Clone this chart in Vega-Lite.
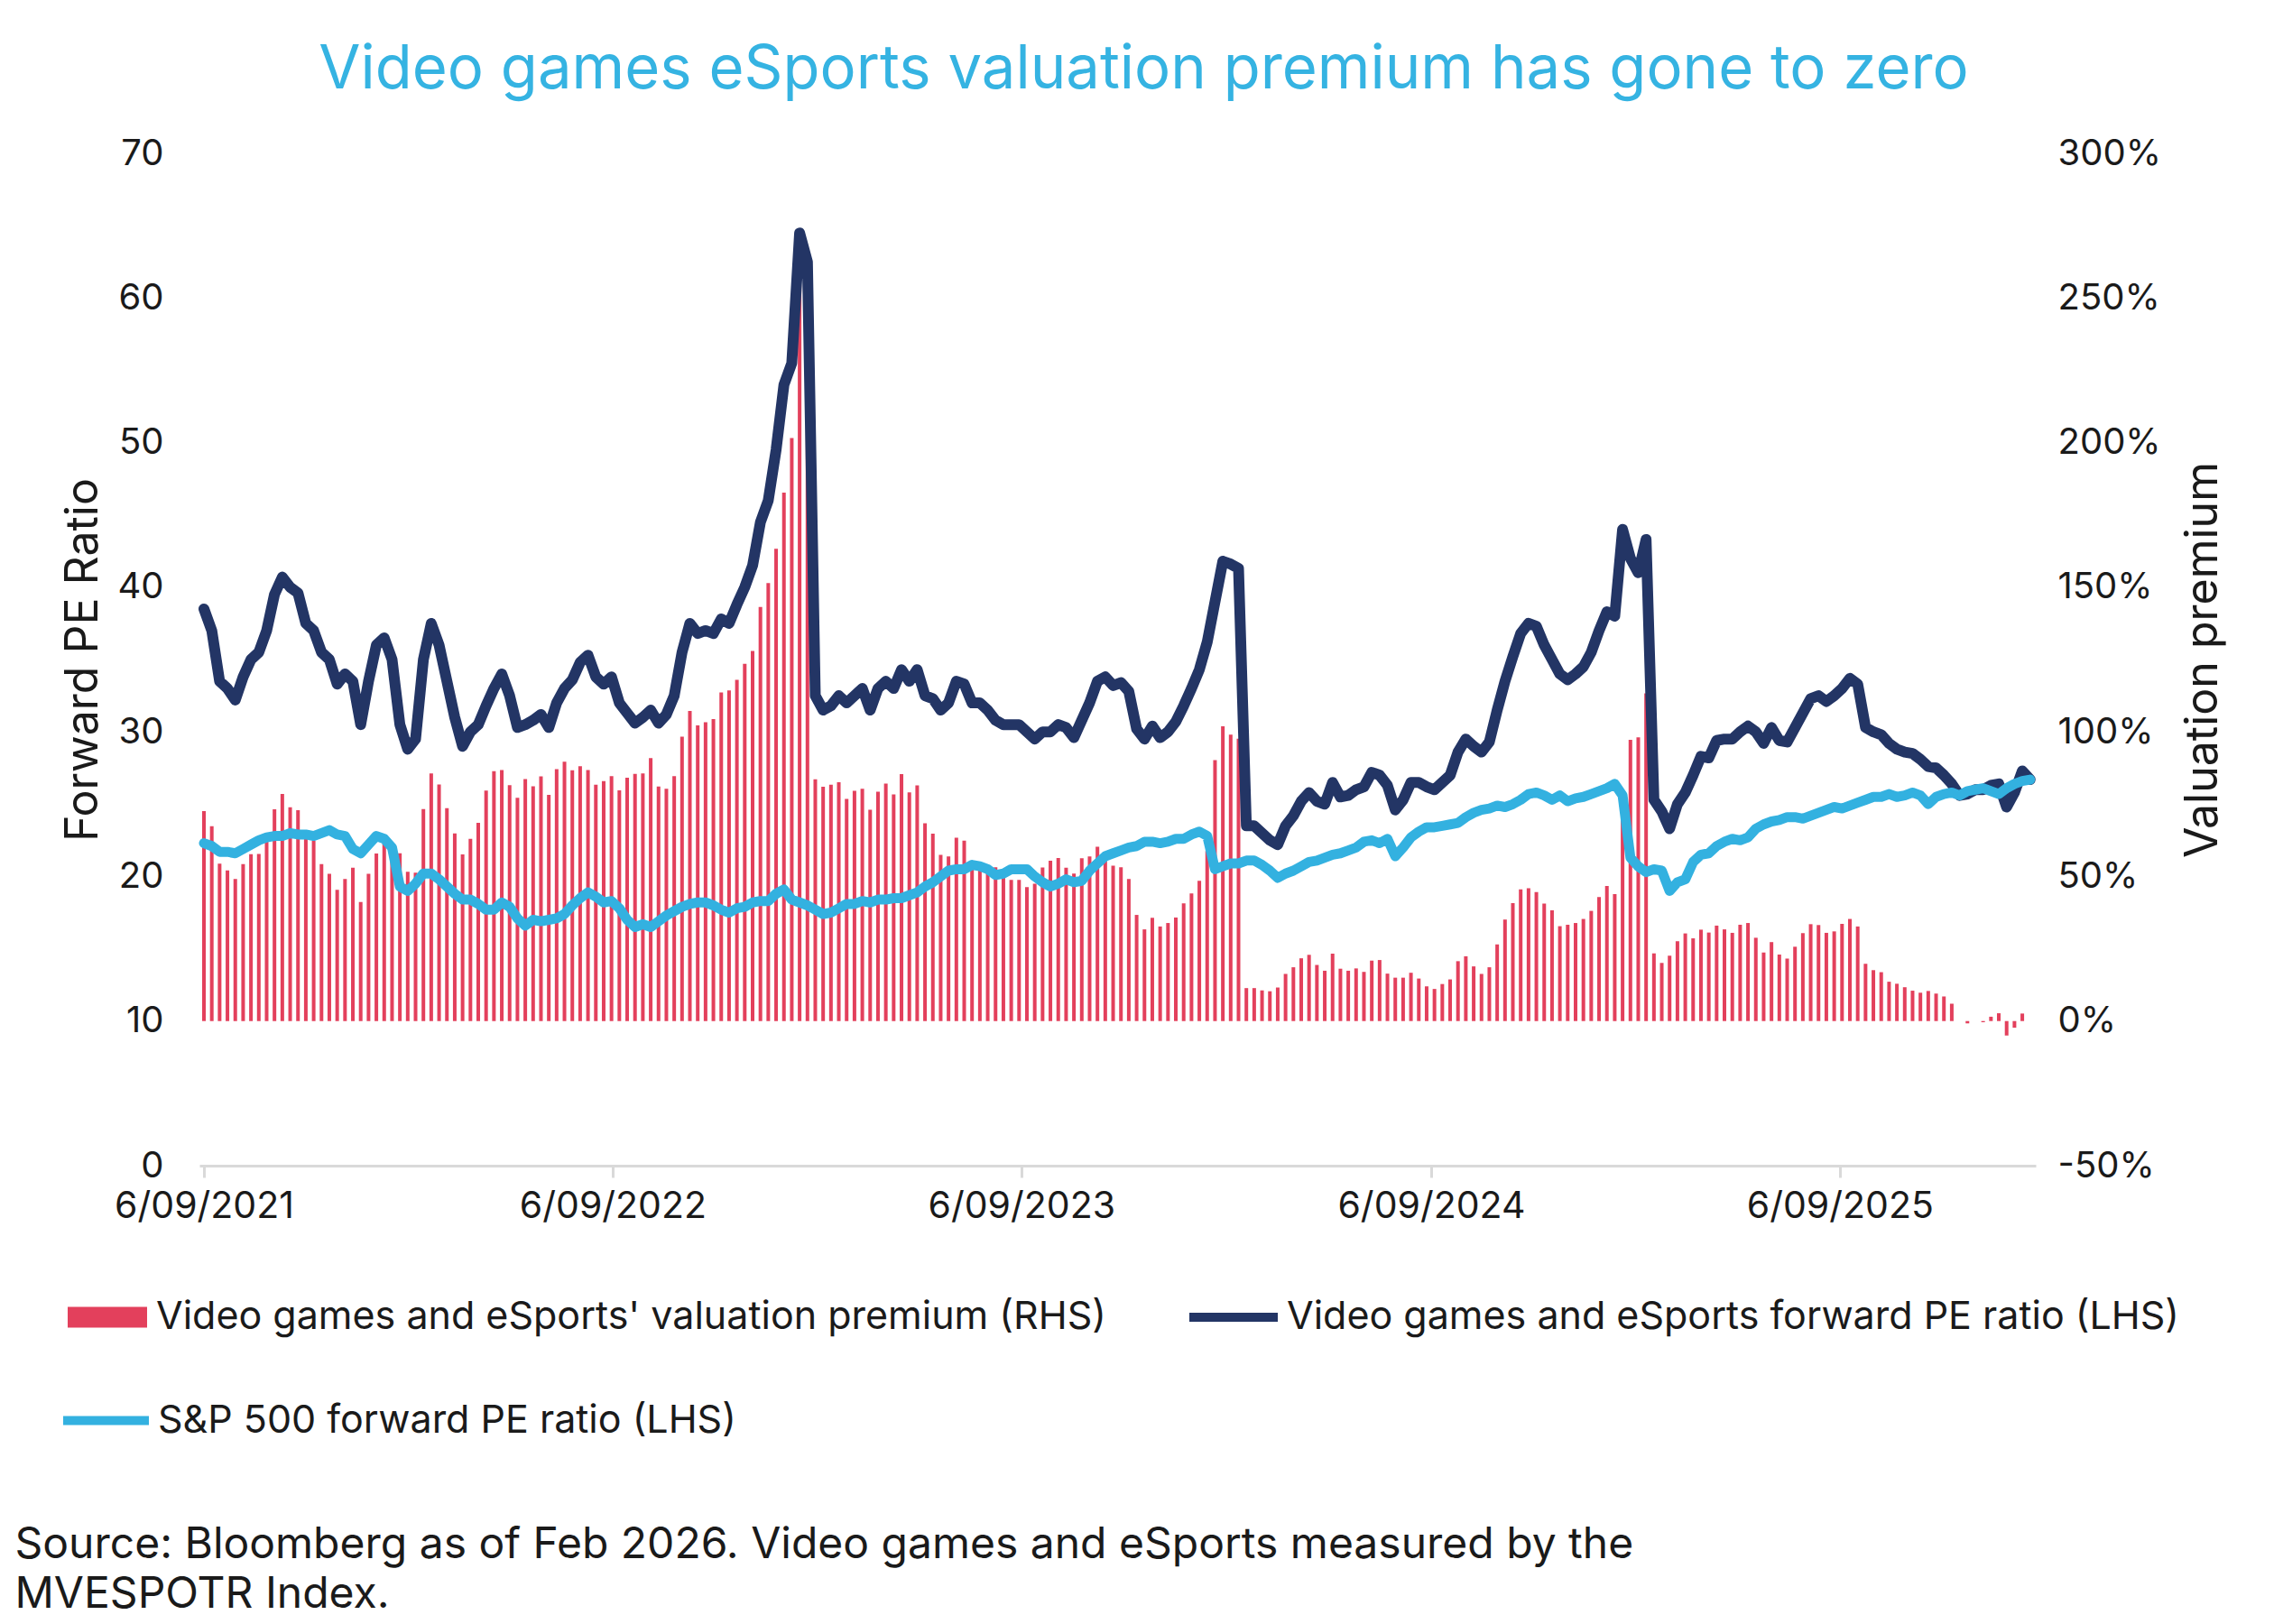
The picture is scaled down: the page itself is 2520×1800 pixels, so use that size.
{
  "$schema": "https://vega.github.io/schema/vega-lite/v6.json",
  "width": 2035,
  "height": 1122,
  "autosize": {"type": "none"},
  "padding": {"left": 221, "top": 170, "right": 264, "bottom": 508},
  "background": "white",
  "title": {"text": "Video games eSports valuation premium has gone to zero", "fontSize": 67, "fontWeight": "normal", "color": "#35b3e2", "font": "Inter", "anchor": "middle", "dx": 29, "offset": 38},
  "config": {
    "font": "Inter",
    "view": {"stroke": null},
    "axis": {"labelColor": "#1a1a1a", "titleColor": "#1a1a1a", "labelFont": "Inter", "titleFont": "Inter", "titleFontWeight": "normal", "grid": false, "labelLimit": 1000},
    "legend": {
      "orient": "none", "direction": "horizontal", "title": null,
      "labelFontSize": 43, "labelColor": "#1a1a1a", "labelLimit": 3000,
      "symbolStrokeWidth": 10, "labelOffset": 5, "symbolOpacity": 1
    }
  },
  "data": {"values": [
    {"d":"2021-09-06","p":0.726,"vg":38.5,"sp":22.3},
    {"d":"2021-09-13","p":0.674,"vg":37.0,"sp":22.1},
    {"d":"2021-09-20","p":0.544,"vg":33.5,"sp":21.7},
    {"d":"2021-09-27","p":0.521,"vg":33.0,"sp":21.7},
    {"d":"2021-10-04","p":0.491,"vg":32.2,"sp":21.6},
    {"d":"2021-10-11","p":0.543,"vg":33.8,"sp":21.9},
    {"d":"2021-10-18","p":0.577,"vg":35.0,"sp":22.2},
    {"d":"2021-10-25","p":0.578,"vg":35.5,"sp":22.5},
    {"d":"2021-11-01","p":0.630,"vg":37.0,"sp":22.7},
    {"d":"2021-11-08","p":0.732,"vg":39.5,"sp":22.8},
    {"d":"2021-11-15","p":0.785,"vg":40.7,"sp":22.8},
    {"d":"2021-11-22","p":0.739,"vg":40.0,"sp":23.0},
    {"d":"2021-11-29","p":0.729,"vg":39.6,"sp":22.9},
    {"d":"2021-12-06","p":0.638,"vg":37.5,"sp":22.9},
    {"d":"2021-12-13","p":0.623,"vg":37.0,"sp":22.8},
    {"d":"2021-12-20","p":0.543,"vg":35.5,"sp":23.0},
    {"d":"2021-12-27","p":0.509,"vg":35.0,"sp":23.2},
    {"d":"2022-01-03","p":0.454,"vg":33.3,"sp":22.9},
    {"d":"2022-01-10","p":0.491,"vg":34.0,"sp":22.8},
    {"d":"2022-01-17","p":0.530,"vg":33.5,"sp":21.9},
    {"d":"2022-01-24","p":0.412,"vg":30.5,"sp":21.6},
    {"d":"2022-01-31","p":0.509,"vg":33.5,"sp":22.2},
    {"d":"2022-02-07","p":0.579,"vg":36.0,"sp":22.8},
    {"d":"2022-02-14","p":0.615,"vg":36.5,"sp":22.6},
    {"d":"2022-02-21","p":0.591,"vg":35.0,"sp":22.0},
    {"d":"2022-02-28","p":0.580,"vg":30.5,"sp":19.3},
    {"d":"2022-03-07","p":0.516,"vg":28.8,"sp":19.0},
    {"d":"2022-03-14","p":0.513,"vg":29.5,"sp":19.5},
    {"d":"2022-03-21","p":0.733,"vg":35.0,"sp":20.2},
    {"d":"2022-03-28","p":0.856,"vg":37.5,"sp":20.2},
    {"d":"2022-04-04","p":0.818,"vg":36.0,"sp":19.8},
    {"d":"2022-04-11","p":0.736,"vg":33.5,"sp":19.3},
    {"d":"2022-04-18","p":0.649,"vg":31.0,"sp":18.8},
    {"d":"2022-04-25","p":0.576,"vg":29.0,"sp":18.4},
    {"d":"2022-05-02","p":0.630,"vg":30.0,"sp":18.4},
    {"d":"2022-05-09","p":0.685,"vg":30.5,"sp":18.1},
    {"d":"2022-05-16","p":0.797,"vg":31.8,"sp":17.7},
    {"d":"2022-05-23","p":0.864,"vg":33.0,"sp":17.7},
    {"d":"2022-05-30","p":0.868,"vg":34.0,"sp":18.2},
    {"d":"2022-06-06","p":0.816,"vg":32.5,"sp":17.9},
    {"d":"2022-06-13","p":0.772,"vg":30.3,"sp":17.1},
    {"d":"2022-06-20","p":0.837,"vg":30.5,"sp":16.6},
    {"d":"2022-06-27","p":0.812,"vg":30.8,"sp":17.0},
    {"d":"2022-07-04","p":0.846,"vg":31.2,"sp":16.9},
    {"d":"2022-07-11","p":0.782,"vg":30.3,"sp":17.0},
    {"d":"2022-07-18","p":0.871,"vg":32.0,"sp":17.1},
    {"d":"2022-07-25","p":0.897,"vg":33.0,"sp":17.4},
    {"d":"2022-08-01","p":0.867,"vg":33.6,"sp":18.0},
    {"d":"2022-08-08","p":0.881,"vg":34.8,"sp":18.5},
    {"d":"2022-08-15","p":0.868,"vg":35.3,"sp":18.9},
    {"d":"2022-08-22","p":0.817,"vg":33.8,"sp":18.6},
    {"d":"2022-08-29","p":0.830,"vg":33.3,"sp":18.2},
    {"d":"2022-09-05","p":0.847,"vg":33.8,"sp":18.3},
    {"d":"2022-09-12","p":0.798,"vg":32.0,"sp":17.8},
    {"d":"2022-09-19","p":0.841,"vg":31.3,"sp":17.0},
    {"d":"2022-09-26","p":0.855,"vg":30.6,"sp":16.5},
    {"d":"2022-10-03","p":0.856,"vg":31.0,"sp":16.7},
    {"d":"2022-10-10","p":0.909,"vg":31.5,"sp":16.5},
    {"d":"2022-10-17","p":0.811,"vg":30.6,"sp":16.9},
    {"d":"2022-10-24","p":0.803,"vg":31.2,"sp":17.3},
    {"d":"2022-10-31","p":0.847,"vg":32.5,"sp":17.6},
    {"d":"2022-11-07","p":0.983,"vg":35.5,"sp":17.9},
    {"d":"2022-11-14","p":1.072,"vg":37.5,"sp":18.1},
    {"d":"2022-11-21","p":1.022,"vg":36.8,"sp":18.2},
    {"d":"2022-11-28","p":1.033,"vg":37.0,"sp":18.2},
    {"d":"2022-12-05","p":1.044,"vg":36.8,"sp":18.0},
    {"d":"2022-12-12","p":1.136,"vg":37.8,"sp":17.7},
    {"d":"2022-12-19","p":1.143,"vg":37.5,"sp":17.5},
    {"d":"2022-12-26","p":1.180,"vg":38.8,"sp":17.8},
    {"d":"2023-01-02","p":1.235,"vg":40.0,"sp":17.9},
    {"d":"2023-01-09","p":1.280,"vg":41.5,"sp":18.2},
    {"d":"2023-01-16","p":1.432,"vg":44.5,"sp":18.3},
    {"d":"2023-01-23","p":1.514,"vg":46.0,"sp":18.3},
    {"d":"2023-01-30","p":1.633,"vg":49.5,"sp":18.8},
    {"d":"2023-02-06","p":1.827,"vg":54.0,"sp":19.1},
    {"d":"2023-02-13","p":2.016,"vg":55.5,"sp":18.4},
    {"d":"2023-02-20","p":2.544,"vg":64.5,"sp":18.2},
    {"d":"2023-02-27","p":2.472,"vg":62.5,"sp":18.0},
    {"d":"2023-03-06","p":0.836,"vg":32.5,"sp":17.7},
    {"d":"2023-03-13","p":0.810,"vg":31.5,"sp":17.4},
    {"d":"2023-03-20","p":0.817,"vg":31.8,"sp":17.5},
    {"d":"2023-03-27","p":0.826,"vg":32.5,"sp":17.8},
    {"d":"2023-04-03","p":0.768,"vg":32.0,"sp":18.1},
    {"d":"2023-04-10","p":0.796,"vg":32.5,"sp":18.1},
    {"d":"2023-04-17","p":0.803,"vg":33.0,"sp":18.3},
    {"d":"2023-04-24","p":0.731,"vg":31.5,"sp":18.2},
    {"d":"2023-05-01","p":0.793,"vg":33.0,"sp":18.4},
    {"d":"2023-05-08","p":0.821,"vg":33.5,"sp":18.4},
    {"d":"2023-05-15","p":0.784,"vg":33.0,"sp":18.5},
    {"d":"2023-05-22","p":0.854,"vg":34.3,"sp":18.5},
    {"d":"2023-05-29","p":0.791,"vg":33.5,"sp":18.7},
    {"d":"2023-06-05","p":0.815,"vg":34.3,"sp":18.9},
    {"d":"2023-06-12","p":0.684,"vg":32.5,"sp":19.3},
    {"d":"2023-06-19","p":0.648,"vg":32.3,"sp":19.6},
    {"d":"2023-06-26","p":0.575,"vg":31.5,"sp":20.0},
    {"d":"2023-07-03","p":0.569,"vg":32.0,"sp":20.4},
    {"d":"2023-07-10","p":0.634,"vg":33.5,"sp":20.5},
    {"d":"2023-07-17","p":0.624,"vg":33.3,"sp":20.5},
    {"d":"2023-07-24","p":0.538,"vg":32.0,"sp":20.8},
    {"d":"2023-07-31","p":0.546,"vg":32.0,"sp":20.7},
    {"d":"2023-08-07","p":0.537,"vg":31.5,"sp":20.5},
    {"d":"2023-08-14","p":0.532,"vg":30.8,"sp":20.1},
    {"d":"2023-08-21","p":0.510,"vg":30.5,"sp":20.2},
    {"d":"2023-08-28","p":0.488,"vg":30.5,"sp":20.5},
    {"d":"2023-09-04","p":0.488,"vg":30.5,"sp":20.5},
    {"d":"2023-09-11","p":0.463,"vg":30.0,"sp":20.5},
    {"d":"2023-09-18","p":0.475,"vg":29.5,"sp":20.0},
    {"d":"2023-09-25","p":0.531,"vg":30.0,"sp":19.6},
    {"d":"2023-10-02","p":0.554,"vg":30.0,"sp":19.3},
    {"d":"2023-10-09","p":0.564,"vg":30.5,"sp":19.5},
    {"d":"2023-10-16","p":0.530,"vg":30.3,"sp":19.8},
    {"d":"2023-10-23","p":0.510,"vg":29.6,"sp":19.6},
    {"d":"2023-10-30","p":0.563,"vg":30.8,"sp":19.7},
    {"d":"2023-11-06","p":0.569,"vg":32.0,"sp":20.4},
    {"d":"2023-11-13","p":0.603,"vg":33.5,"sp":20.9},
    {"d":"2023-11-20","p":0.579,"vg":33.8,"sp":21.4},
    {"d":"2023-11-27","p":0.537,"vg":33.2,"sp":21.6},
    {"d":"2023-12-04","p":0.532,"vg":33.4,"sp":21.8},
    {"d":"2023-12-11","p":0.491,"vg":32.8,"sp":22.0},
    {"d":"2023-12-18","p":0.367,"vg":30.2,"sp":22.1},
    {"d":"2023-12-25","p":0.317,"vg":29.5,"sp":22.4},
    {"d":"2024-01-01","p":0.357,"vg":30.4,"sp":22.4},
    {"d":"2024-01-08","p":0.327,"vg":29.6,"sp":22.3},
    {"d":"2024-01-15","p":0.339,"vg":30.0,"sp":22.4},
    {"d":"2024-01-22","p":0.358,"vg":30.7,"sp":22.6},
    {"d":"2024-01-29","p":0.407,"vg":31.8,"sp":22.6},
    {"d":"2024-02-05","p":0.441,"vg":33.0,"sp":22.9},
    {"d":"2024-02-12","p":0.485,"vg":34.3,"sp":23.1},
    {"d":"2024-02-19","p":0.588,"vg":36.2,"sp":22.8},
    {"d":"2024-02-26","p":0.902,"vg":39.0,"sp":20.5},
    {"d":"2024-03-04","p":1.019,"vg":41.8,"sp":20.7},
    {"d":"2024-03-11","p":0.990,"vg":41.6,"sp":20.9},
    {"d":"2024-03-18","p":0.976,"vg":41.3,"sp":20.9},
    {"d":"2024-03-25","p":0.114,"vg":23.5,"sp":21.1},
    {"d":"2024-04-01","p":0.114,"vg":23.5,"sp":21.1},
    {"d":"2024-04-08","p":0.106,"vg":23.0,"sp":20.8},
    {"d":"2024-04-15","p":0.103,"vg":22.5,"sp":20.4},
    {"d":"2024-04-22","p":0.116,"vg":22.2,"sp":19.9},
    {"d":"2024-04-29","p":0.163,"vg":23.5,"sp":20.2},
    {"d":"2024-05-06","p":0.186,"vg":24.2,"sp":20.4},
    {"d":"2024-05-13","p":0.217,"vg":25.2,"sp":20.7},
    {"d":"2024-05-20","p":0.229,"vg":25.8,"sp":21.0},
    {"d":"2024-05-27","p":0.194,"vg":25.2,"sp":21.1},
    {"d":"2024-06-03","p":0.174,"vg":25.0,"sp":21.3},
    {"d":"2024-06-10","p":0.233,"vg":26.5,"sp":21.5},
    {"d":"2024-06-17","p":0.181,"vg":25.5,"sp":21.6},
    {"d":"2024-06-24","p":0.174,"vg":25.6,"sp":21.8},
    {"d":"2024-07-01","p":0.182,"vg":26.0,"sp":22.0},
    {"d":"2024-07-08","p":0.170,"vg":26.2,"sp":22.4},
    {"d":"2024-07-15","p":0.209,"vg":27.2,"sp":22.5},
    {"d":"2024-07-22","p":0.211,"vg":27.0,"sp":22.3},
    {"d":"2024-07-29","p":0.164,"vg":26.3,"sp":22.6},
    {"d":"2024-08-05","p":0.150,"vg":24.6,"sp":21.4},
    {"d":"2024-08-12","p":0.150,"vg":25.3,"sp":22.0},
    {"d":"2024-08-19","p":0.167,"vg":26.5,"sp":22.7},
    {"d":"2024-08-26","p":0.147,"vg":26.5,"sp":23.1},
    {"d":"2024-09-02","p":0.120,"vg":26.2,"sp":23.4},
    {"d":"2024-09-09","p":0.111,"vg":26.0,"sp":23.4},
    {"d":"2024-09-16","p":0.128,"vg":26.5,"sp":23.5},
    {"d":"2024-09-23","p":0.144,"vg":27.0,"sp":23.6},
    {"d":"2024-09-30","p":0.207,"vg":28.6,"sp":23.7},
    {"d":"2024-10-07","p":0.224,"vg":29.5,"sp":24.1},
    {"d":"2024-10-14","p":0.189,"vg":29.0,"sp":24.4},
    {"d":"2024-10-21","p":0.163,"vg":28.6,"sp":24.6},
    {"d":"2024-10-28","p":0.186,"vg":29.3,"sp":24.7},
    {"d":"2024-11-04","p":0.265,"vg":31.5,"sp":24.9},
    {"d":"2024-11-11","p":0.351,"vg":33.5,"sp":24.8},
    {"d":"2024-11-18","p":0.408,"vg":35.2,"sp":25.0},
    {"d":"2024-11-25","p":0.455,"vg":36.8,"sp":25.3},
    {"d":"2024-12-02","p":0.459,"vg":37.5,"sp":25.7},
    {"d":"2024-12-09","p":0.446,"vg":37.3,"sp":25.8},
    {"d":"2024-12-16","p":0.406,"vg":36.0,"sp":25.6},
    {"d":"2024-12-23","p":0.383,"vg":35.0,"sp":25.3},
    {"d":"2024-12-30","p":0.328,"vg":34.0,"sp":25.6},
    {"d":"2025-01-06","p":0.333,"vg":33.6,"sp":25.2},
    {"d":"2025-01-13","p":0.339,"vg":34.0,"sp":25.4},
    {"d":"2025-01-20","p":0.353,"vg":34.5,"sp":25.5},
    {"d":"2025-01-27","p":0.381,"vg":35.5,"sp":25.7},
    {"d":"2025-02-03","p":0.429,"vg":37.0,"sp":25.9},
    {"d":"2025-02-10","p":0.467,"vg":38.3,"sp":26.1},
    {"d":"2025-02-17","p":0.439,"vg":38.0,"sp":26.4},
    {"d":"2025-02-24","p":0.719,"vg":44.0,"sp":25.6},
    {"d":"2025-03-03","p":0.972,"vg":42.0,"sp":21.3},
    {"d":"2025-03-10","p":0.981,"vg":41.0,"sp":20.7},
    {"d":"2025-03-17","p":1.133,"vg":43.3,"sp":20.3},
    {"d":"2025-03-24","p":0.234,"vg":25.3,"sp":20.5},
    {"d":"2025-03-31","p":0.201,"vg":24.5,"sp":20.4},
    {"d":"2025-04-07","p":0.226,"vg":23.3,"sp":19.0},
    {"d":"2025-04-14","p":0.276,"vg":25.0,"sp":19.6},
    {"d":"2025-04-21","p":0.303,"vg":25.8,"sp":19.8},
    {"d":"2025-04-28","p":0.286,"vg":27.0,"sp":21.0},
    {"d":"2025-05-05","p":0.316,"vg":28.3,"sp":21.5},
    {"d":"2025-05-12","p":0.306,"vg":28.2,"sp":21.6},
    {"d":"2025-05-19","p":0.330,"vg":29.4,"sp":22.1},
    {"d":"2025-05-26","p":0.317,"vg":29.5,"sp":22.4},
    {"d":"2025-06-02","p":0.305,"vg":29.5,"sp":22.6},
    {"d":"2025-06-09","p":0.333,"vg":30.0,"sp":22.5},
    {"d":"2025-06-16","p":0.339,"vg":30.4,"sp":22.7},
    {"d":"2025-06-23","p":0.288,"vg":30.0,"sp":23.3},
    {"d":"2025-06-30","p":0.237,"vg":29.2,"sp":23.6},
    {"d":"2025-07-07","p":0.273,"vg":30.3,"sp":23.8},
    {"d":"2025-07-14","p":0.230,"vg":29.4,"sp":23.9},
    {"d":"2025-07-21","p":0.216,"vg":29.3,"sp":24.1},
    {"d":"2025-07-28","p":0.257,"vg":30.3,"sp":24.1},
    {"d":"2025-08-04","p":0.304,"vg":31.3,"sp":24.0},
    {"d":"2025-08-11","p":0.335,"vg":32.3,"sp":24.2},
    {"d":"2025-08-18","p":0.332,"vg":32.5,"sp":24.4},
    {"d":"2025-08-25","p":0.305,"vg":32.1,"sp":24.6},
    {"d":"2025-09-01","p":0.310,"vg":32.5,"sp":24.8},
    {"d":"2025-09-08","p":0.336,"vg":33.0,"sp":24.7},
    {"d":"2025-09-15","p":0.353,"vg":33.7,"sp":24.9},
    {"d":"2025-09-22","p":0.327,"vg":33.3,"sp":25.1},
    {"d":"2025-09-29","p":0.198,"vg":30.3,"sp":25.3},
    {"d":"2025-10-06","p":0.176,"vg":30.0,"sp":25.5},
    {"d":"2025-10-13","p":0.169,"vg":29.8,"sp":25.5},
    {"d":"2025-10-20","p":0.136,"vg":29.2,"sp":25.7},
    {"d":"2025-10-27","p":0.129,"vg":28.8,"sp":25.5},
    {"d":"2025-11-03","p":0.117,"vg":28.6,"sp":25.6},
    {"d":"2025-11-10","p":0.105,"vg":28.5,"sp":25.8},
    {"d":"2025-11-17","p":0.098,"vg":28.1,"sp":25.6},
    {"d":"2025-11-24","p":0.104,"vg":27.6,"sp":25.0},
    {"d":"2025-12-01","p":0.095,"vg":27.5,"sp":25.5},
    {"d":"2025-12-08","p":0.085,"vg":27.0,"sp":25.7},
    {"d":"2025-12-15","p":0.060,"vg":26.4,"sp":25.8},
    {"d":"2025-12-22","p":0.000,"vg":25.6,"sp":25.6},
    {"d":"2025-12-29","p":-0.008,"vg":25.7,"sp":25.9},
    {"d":"2026-01-05","p":0.000,"vg":26.0,"sp":26.0},
    {"d":"2026-01-12","p":-0.004,"vg":26.0,"sp":26.1},
    {"d":"2026-01-19","p":0.015,"vg":26.3,"sp":25.9},
    {"d":"2026-01-26","p":0.027,"vg":26.4,"sp":25.7},
    {"d":"2026-02-02","p":-0.050,"vg":24.8,"sp":26.1},
    {"d":"2026-02-09","p":-0.023,"vg":25.8,"sp":26.4},
    {"d":"2026-02-16","p":0.026,"vg":27.3,"sp":26.6},
    {"d":"2026-02-23","p":0.000,"vg":26.7,"sp":26.7}
  ]},
  "encoding": {
    "x": {
      "field": "d", "type": "temporal",
      "scale": {"type": "utc", "domain": [1630886400000, 1771891200000]},
      "axis": {
        "orient": "bottom",
        "values": [1630886400000, 1662422400000, 1693958400000, 1725580800000, 1757116800000],
        "format": "%-d/%m/%Y",
        "domainColor": "#d9d9d9", "domainWidth": 3,
        "tickColor": "#d9d9d9", "tickWidth": 3, "tickSize": 13,
        "labelFontSize": 41, "labelPadding": 12, "labelFlush": false, "labelOverlap": false,
        "title": ["Source: Bloomberg as of Feb 2026. Video games and eSports measured by the", "MVESPOTR Index."],
        "titleFontSize": 48, "titleX": -205, "titleY": 434, "titleAlign": "left", "titleAnchor": "start",
        "titleBaseline": "alphabetic", "titleLineHeight": 55, "titleAngle": 0
      }
    }
  },
  "layer": [
    {
      "mark": {"type": "bar", "width": 4},
      "encoding": {
        "y": {
          "field": "p", "type": "quantitative",
          "scale": {"domain": [-0.5, 3], "nice": false, "zero": true},
          "axis": {
            "orient": "right", "values": [-0.5, 0, 0.5, 1, 1.5, 2, 2.5, 3], "format": ".0%",
            "labelExpr": "replace(datum.label, '\u2212', '-')",
            "domain": false, "ticks": false, "labelFontSize": 40, "labelPadding": 24,
            "title": "Valuation premium", "titleFontSize": 50, "titleX": 185, "titleY": 561,
            "titleAngle": -90, "titleAlign": "center", "titleBaseline": "middle"
          }
        },
        "fill": {
          "datum": "Video games and eSports' valuation premium (RHS)",
          "scale": {"domain": ["Video games and eSports' valuation premium (RHS)"], "range": ["#e3405c"]},
          "legend": {
            "legendX": -151, "legendY": 1241,
            "symbolType": "M-1,-0.26H1V0.26H-1Z", "symbolSize": 7744,
            "symbolStrokeColor": "transparent", "symbolFillColor": "#e3405c"
          }
        }
      }
    },
    {
      "mark": {"type": "line", "strokeWidth": 12, "strokeJoin": "round", "strokeCap": "round"},
      "encoding": {
        "y": {
          "field": "vg", "type": "quantitative",
          "scale": {"domain": [0, 70], "nice": false},
          "axis": {
            "orient": "left", "values": [0, 10, 20, 30, 40, 50, 60, 70],
            "domain": false, "ticks": false, "labelFontSize": 40, "labelPadding": 40,
            "title": "Forward PE Ratio", "titleFontSize": 50, "titleX": -129, "titleY": 561,
            "titleAngle": -90, "titleAlign": "center", "titleBaseline": "middle"
          }
        },
        "stroke": {
          "datum": "Video games and eSports forward PE ratio (LHS)",
          "scale": {"domain": ["Video games and eSports forward PE ratio (LHS)"], "range": ["#233565"]},
          "legend": {
            "legendX": 1092, "legendY": 1236,
            "symbolType": "stroke", "symbolSize": 9604
          }
        }
      }
    },
    {
      "mark": {"type": "line", "strokeWidth": 11, "strokeJoin": "round", "strokeCap": "round"},
      "encoding": {
        "y": {
          "field": "sp", "type": "quantitative",
          "scale": {"domain": [0, 70], "nice": false},
          "axis": null
        },
        "color": {
          "datum": "S&P 500 forward PE ratio (LHS)",
          "scale": {"domain": ["S&P 500 forward PE ratio (LHS)"], "range": ["#33b1e0"]},
          "legend": {
            "legendX": -156, "legendY": 1352,
            "symbolType": "stroke", "symbolSize": 9025
          }
        }
      }
    }
  ],
  "resolve": {"scale": {"y": "independent"}, "axis": {"y": "independent"}}
}
